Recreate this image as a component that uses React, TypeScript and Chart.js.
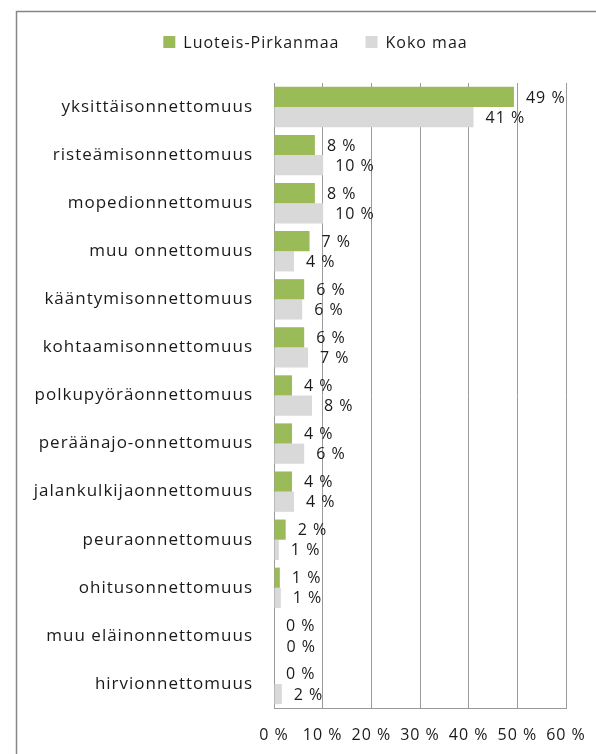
import React, { useEffect, useRef } from "react";
import { Chart, registerables } from "chart.js";

Chart.register(...registerables);

const categories = [
  "yksittäisonnettomuus",
  "risteämisonnettomuus",
  "mopedionnettomuus",
  "muu onnettomuus",
  "kääntymisonnettomuus",
  "kohtaamisonnettomuus",
  "polkupyöräonnettomuus",
  "peräänajo-onnettomuus",
  "jalankulkijaonnettomuus",
  "peuraonnettomuus",
  "ohitusonnettomuus",
  "muu eläinonnettomuus",
  "hirvionnettomuus",
];

const seriesNames = ["Luoteis-Pirkanmaa", "Koko maa"];

const luoteisPirkanmaa = [49.3, 8.4, 8.4, 7.3, 6.2, 6.2, 3.7, 3.7, 3.7, 2.4, 1.2, 0, 0];
const kokoMaa = [41.0, 10.1, 10.1, 4.1, 5.8, 7.0, 7.8, 6.2, 4.1, 1.0, 1.4, 0.1, 1.6];

const xTickValues = [0, 10, 20, 30, 40, 50, 60];

const FONT = "'Open Sans', 'Noto Sans', sans-serif";
const TEXT = "#1a1a1a";
const SPACING = "1px";

const spacingPlugin = {
  id: "spacing",
  beforeUpdate(chart: any) {
    chart.ctx.letterSpacing = SPACING;
  },
  beforeLayout(chart: any) {
    chart.ctx.letterSpacing = SPACING;
  },
  resize(chart: any) {
    chart.ctx.letterSpacing = SPACING;
  },
  beforeDraw(chart: any) {
    chart.ctx.letterSpacing = SPACING;
  },
};

const framePlugin = {
  id: "frame",
  beforeDraw(chart: any) {
    const ctx = chart.ctx;
    ctx.save();
    ctx.fillStyle = "#ffffff";
    ctx.fillRect(0, 0, chart.width, chart.height);
    ctx.strokeStyle = "#868686";
    ctx.lineWidth = 1.5;
    ctx.beginPath();
    ctx.moveTo(16.5, chart.height);
    ctx.lineTo(16.5, 11.5);
    ctx.lineTo(chart.width, 11.5);
    ctx.stroke();
    ctx.restore();
  },
};

const legendPlugin = {
  id: "customLegend",
  afterDraw(chart: any) {
    const ctx = chart.ctx;
    ctx.save();
    ctx.letterSpacing = SPACING;
    ctx.font = "16px " + FONT;
    const box = 12;
    const gap = 8;
    const spacing = 26;
    const items = chart.data.datasets.map((d: any) => ({
      label: d.label,
      color: d.backgroundColor,
      w: box + gap + ctx.measureText(d.label).width,
    }));
    const total = items.reduce((s: number, it: any) => s + it.w, 0) + spacing * (items.length - 1);
    let x = 315.5 - total / 2;
    const cy = 42;
    ctx.textBaseline = "middle";
    ctx.textAlign = "left";
    for (const it of items) {
      ctx.fillStyle = it.color;
      ctx.fillRect(x, cy - box / 2, box, box);
      ctx.fillStyle = TEXT;
      ctx.fillText(it.label, x + box + gap, cy + 1);
      x += it.w + spacing;
    }
    ctx.restore();
  },
};

const valueLabelPlugin = {
  id: "valueLabels",
  afterDatasetsDraw(chart: any) {
    const ctx = chart.ctx;
    ctx.save();
    ctx.letterSpacing = SPACING;
    ctx.font = "16px " + FONT;
    ctx.fillStyle = TEXT;
    ctx.textBaseline = "middle";
    ctx.textAlign = "left";
    chart.data.datasets.forEach((ds: any, i: number) => {
      const meta = chart.getDatasetMeta(i);
      meta.data.forEach((el: any, j: number) => {
        const v = ds.data[j];
        ctx.fillText(Math.round(v) + " %", el.x + 12, el.y + 1);
      });
    });
    ctx.restore();
  },
};

export default function App() {
  const ref = useRef<HTMLCanvasElement | null>(null);

  useEffect(() => {
    if (!ref.current) return;
    const chart = new Chart(ref.current, {
      type: "bar",
      data: {
        labels: categories,
        datasets: [
          {
            label: seriesNames[0],
            data: luoteisPirkanmaa,
            backgroundColor: "#9BBB59",
            categoryPercentage: 0.84,
            barPercentage: 1,
          },
          {
            label: seriesNames[1],
            data: kokoMaa,
            backgroundColor: "#D9D9D9",
            categoryPercentage: 0.84,
            barPercentage: 1,
          },
        ],
      },
      options: {
        indexAxis: "y",
        animation: false,
        responsive: true,
        maintainAspectRatio: false,
        layout: { padding: { top: 83, right: 30, left: 0, bottom: 0 } },
        plugins: {
          legend: { display: false },
          tooltip: { enabled: false },
        },
        scales: {
          x: {
            min: 0,
            max: 60,
            afterFit(scale: any) {
              scale.height = 46;
              scale.paddingLeft = 0;
              scale.paddingRight = 0;
            },
            afterBuildTicks(scale: any) {
              scale.ticks = xTickValues.map((v) => ({ value: v }));
            },
            ticks: {
              padding: 18,
              color: TEXT,
              font: { size: 16, family: FONT },
              callback: (v: any) => v + " %",
            },
            grid: { color: "#9a9a9a", lineWidth: 1, drawTicks: false },
            border: { display: true, color: "#9a9a9a", width: 1 },
          },
          y: {
            afterFit(scale: any) {
              scale.width = 274;
              scale.paddingTop = 0;
              scale.paddingBottom = 0;
            },
            ticks: {
              padding: 21,
              color: TEXT,
              font: { size: 17, family: FONT },
            },
            grid: { display: false, drawTicks: false },
            border: { display: true, color: "#9a9a9a", width: 1 },
          },
        },
      },
      plugins: [spacingPlugin, framePlugin, valueLabelPlugin, legendPlugin],
    });
    return () => chart.destroy();
  }, []);

  return (
    <div style={{ position: "fixed", left: 0, top: 0, width: 596, height: 754, background: "#fff" }}>
      <canvas ref={ref} />
    </div>
  );
}
